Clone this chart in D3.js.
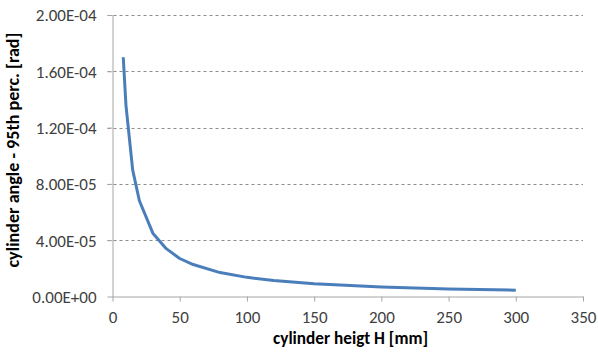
<!DOCTYPE html>
<html>
<head>
<meta charset="utf-8">
<script src="https://cdn.jsdelivr.net/npm/d3@7"></script>
<style>
  body { margin: 0; background: #fff; }
  .tick text { font-family: Carlito, Lato, "Open Sans", sans-serif; font-size: 17px; fill: #404040; }
  .title { font-family: Carlito, Lato, "Open Sans", sans-serif; font-size: 17px; font-weight: bold; fill: #000; }
</style>
</head>
<body>
<div class="container"></div>
<script>
const WIDTH = 598;
const HEIGHT = 358;
const LEFT = 112.5, RIGHT = 583, TOP = 15, BOTTOM = 296.5;

// cylinder height H [mm]
var heights = [8, 10, 15, 20, 30, 40, 50, 60, 80, 100, 120, 150, 200, 250, 300];
// cylinder angle - 95th percentile [rad]
var angles = [1.70e-4, 1.36e-4, 9.0e-5, 6.8e-5, 4.5e-5, 3.4e-5, 2.7e-5, 2.27e-5, 1.7e-5,
              1.36e-5, 1.13e-5, 9.0e-6, 6.8e-6, 5.4e-6, 4.5e-6];

var xTicks = [0, 50, 100, 150, 200, 250, 300, 350];
var yTicks = [0, 4e-5, 8e-5, 1.2e-4, 1.6e-4, 2e-4];
var xTitle = 'cylinder heigt H [mm]';
var yTitle = 'cylinder angle - 95th perc. [rad]';

var translate = function(x, y){
  return 'translate(' + x + ',' + y + ')';
};

var fmtExp = function(v){
  var s = v.toExponential(2).toUpperCase();
  return s.replace(/E([+-])(\d)$/, 'E$10$2');
};

// scale the font so the text is as long as in the picture
var fitText = function(sel, width){
  var len = sel.node().getComputedTextLength();
  var size = parseFloat(getComputedStyle(sel.node()).fontSize);
  sel.style('font-size', (size * width / len) + 'px');
};

var svg = d3.select('.container').append('svg')
  .attr('width', WIDTH)
  .attr('height', HEIGHT);

var x = d3.scaleLinear().domain([0, 350]).range([LEFT, RIGHT]);
var y = d3.scaleLinear().domain([0, 2e-4]).range([BOTTOM, TOP]);

// gridlines
svg.append('g').selectAll('line')
  .data(yTicks.slice(1))
  .enter().append('line')
  .attr('x1', LEFT - 5).attr('x2', RIGHT)
  .attr('y1', function(d){ return Math.round(y(d)) + 0.5; })
  .attr('y2', function(d){ return Math.round(y(d)) + 0.5; })
  .attr('stroke', '#8c8c8c')
  .attr('stroke-width', 1)
  .attr('stroke-dasharray', '3,3');

var yAxis = d3.axisLeft(y).tickValues(yTicks).tickFormat(fmtExp).tickSize(5).tickPadding(11);
var gy = svg.append('g').attr('transform', translate(LEFT, 0)).call(yAxis);
gy.selectAll('line, path').attr('stroke', '#a6a6a6');
gy.select('.domain').attr('d', 'M0.5,' + TOP + 'V' + (BOTTOM + 0.5));
gy.selectAll('.tick text').attr('dy', '0.35em');

var xAxis = d3.axisBottom(x).tickValues(xTicks).tickFormat(d3.format('d')).tickSize(5).tickPadding(9);
var gx = svg.append('g').attr('transform', translate(0, BOTTOM)).call(xAxis);
gx.selectAll('line, path').attr('stroke', '#a6a6a6');
gx.select('.domain').attr('d', 'M' + LEFT + ',0.5H' + (RIGHT + 0.5));

// series
var line = d3.line()
  .x(function(d, i){ return x(heights[i]); })
  .y(function(d){ return y(d); });

svg.append('path')
  .attr('d', line(angles))
  .attr('fill', 'none')
  .attr('stroke', '#4a7ebb')
  .attr('stroke-width', 3)
  .attr('stroke-linejoin', 'round');

var xt = svg.append('text').attr('class', 'title')
  .attr('x', 350.5).attr('y', 344)
  .attr('text-anchor', 'middle')
  .text(xTitle);
fitText(xt, 155);

var yt = svg.append('text').attr('class', 'title')
  .attr('transform', translate(19, 150) + ' rotate(-90)')
  .attr('text-anchor', 'middle')
  .text(yTitle);
fitText(yt, 235);
</script>
</body>
</html>
